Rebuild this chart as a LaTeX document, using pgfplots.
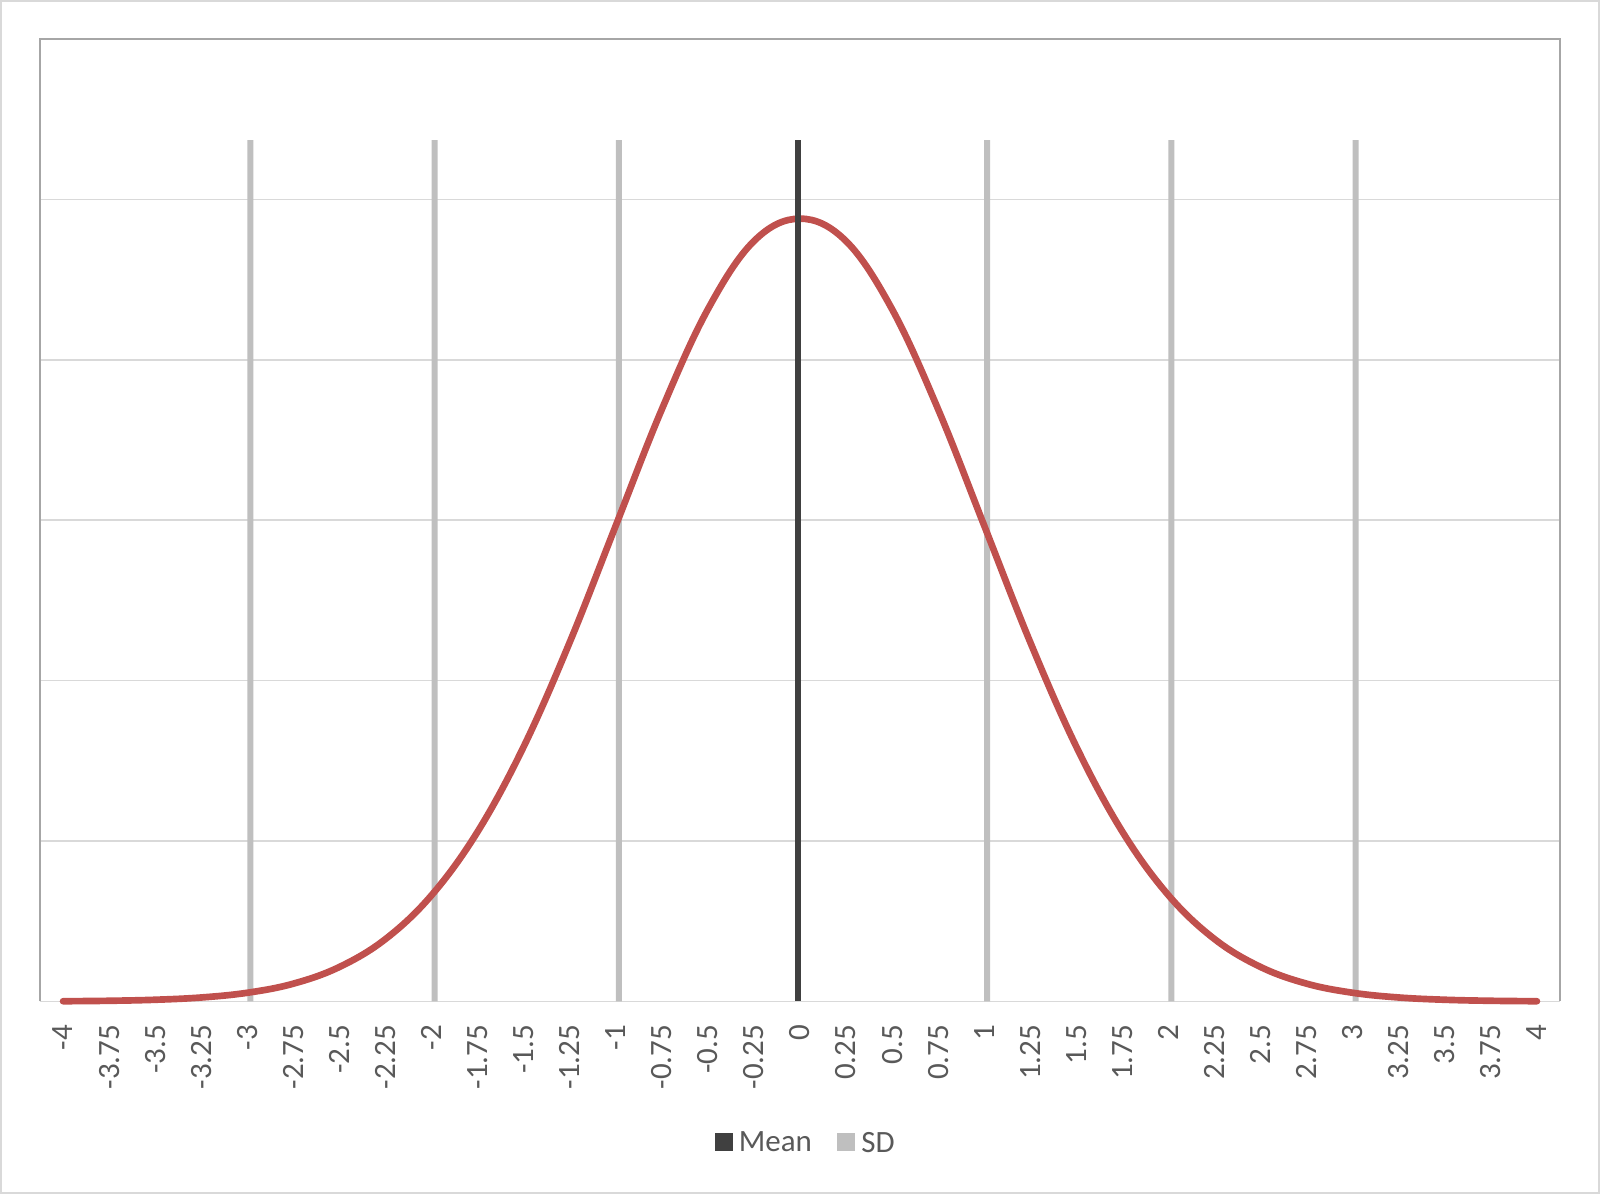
\documentclass[border=0pt]{standalone}
\usepackage{pgfplots}
\pgfplotsset{compat=1.18}
\usepackage{fontspec}
\setmainfont{Carlito}
\definecolor{curve}{HTML}{C0504D}
\definecolor{meanc}{HTML}{404040}
\definecolor{sdc}{HTML}{BFBFBF}
\definecolor{gridc}{HTML}{D9D9D9}
\definecolor{framec}{HTML}{A6A6A6}
\definecolor{txt}{HTML}{595959}
\begin{document}
\begin{tikzpicture}
\useasboundingbox (0,0) rectangle (480pt,358.2pt);
\draw[gridc, line width=0.6pt] (0.3pt,0.3pt) rectangle (479.7pt,357.9pt);
\begin{axis}[
  at={(12pt,57.75pt)}, anchor=south west,
  scale only axis, width=456pt, height=288.75pt,
  xmin=-0.5, xmax=32.5, ymin=0, ymax=6,
  clip=false,
  axis line style={draw=none},
  xtick={0,...,32},
  xticklabels={-4,-3.75,-3.5,-3.25,-3,-2.75,-2.5,-2.25,-2,-1.75,-1.5,-1.25,-1,-0.75,-0.5,-0.25,0,0.25,0.5,0.75,1,1.25,1.5,1.75,2,2.25,2.5,2.75,3,3.25,3.5,3.75,4},
  xticklabel style={rotate=90, anchor=east, inner sep=0pt, font=\fontsize{9.3}{11}\selectfont, text=txt},
  xticklabel shift=6.8pt,
  ytick={0,1,2,3,4,5,6}, yticklabels={},
  major tick length=0pt,
  ymajorgrids, grid style={gridc, line width=0.45pt},
  legend style={at={(0.503,-0.146)}, anchor=center, draw=none, fill=none,
    font=\fontsize{9.3}{11}\selectfont, text=txt, legend columns=2,
    nodes={inner sep=0pt, text depth=0pt},
    /tikz/every even column/.append style={column sep=7.5pt}},
]
\draw[framec, line width=0.5pt] (rel axis cs:0,0) -- (rel axis cs:0,1) -- (rel axis cs:1,1) -- (rel axis cs:1,0);
\addplot[ybar, bar width=1.8pt, bar shift=-0.7pt, fill=meanc, draw=none,
  legend image code/.code={\fill[meanc] (0pt,-2.7pt) rectangle (5.4pt,2.7pt); \path (7.3pt,0pt);}]
  coordinates {(16,5.37)};
\addlegendentry{Mean}
\addplot[ybar, bar width=1.8pt, bar shift=0.9pt, fill=sdc, draw=none,
  legend image code/.code={\fill[sdc] (0pt,-2.7pt) rectangle (5.4pt,2.7pt); \path (7.3pt,0pt);}]
  coordinates {(4,5.37) (8,5.37) (12,5.37) (20,5.37) (24,5.37) (28,5.37)};
\addlegendentry{SD}
\addplot[curve, line width=2pt, smooth, tension=0.62, line cap=round, line join=round, forget plot] coordinates {
(0,0.0016) (1,0.0043) (2,0.0107) (3,0.0249) (4,0.0543) (5,0.111) (6,0.215) (7,0.389)
(8,0.662) (9,1.058) (10,1.588) (11,2.239) (12,2.966) (13,3.691) (14,4.315) (15,4.740)
(16,4.88) (17,4.740) (18,4.315) (19,3.691) (20,2.966) (21,2.239) (22,1.588) (23,1.058)
(24,0.662) (25,0.389) (26,0.215) (27,0.111) (28,0.0543) (29,0.0249) (30,0.0107) (31,0.0043) (32,0.0016)};
\addplot[ybar, bar width=1.8pt, bar shift=-0.7pt, fill=meanc, draw=none, forget plot]
  coordinates {(16,5.37)};
\end{axis}
\end{tikzpicture}
\end{document}
